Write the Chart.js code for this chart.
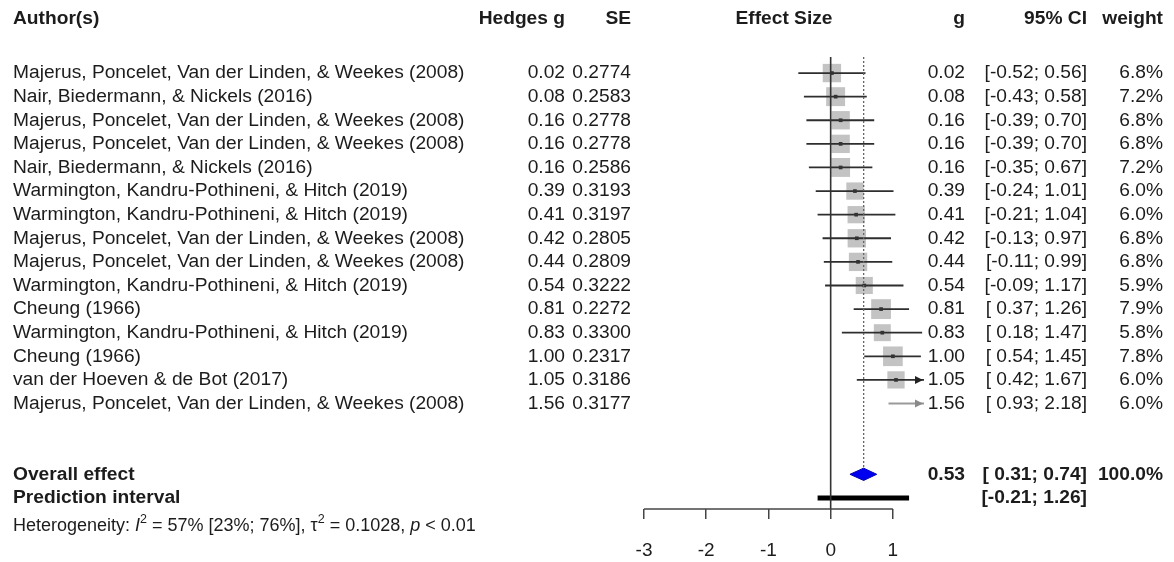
<!DOCTYPE html>
<html>
<head>
<meta charset="utf-8">
<script src="https://cdn.jsdelivr.net/npm/chart.js@4"></script>
<style>
  body { margin: 0; background: #fff; }
  canvas { display: block; }
</style>
</head>
<body>
<canvas id="forest" width="1174" height="562"></canvas>
<script>
// study data
const authors = [
  "Majerus, Poncelet, Van der Linden, & Weekes (2008)",
  "Nair, Biedermann, & Nickels (2016)",
  "Majerus, Poncelet, Van der Linden, & Weekes (2008)",
  "Majerus, Poncelet, Van der Linden, & Weekes (2008)",
  "Nair, Biedermann, & Nickels (2016)",
  "Warmington, Kandru-Pothineni, & Hitch (2019)",
  "Warmington, Kandru-Pothineni, & Hitch (2019)",
  "Majerus, Poncelet, Van der Linden, & Weekes (2008)",
  "Majerus, Poncelet, Van der Linden, & Weekes (2008)",
  "Warmington, Kandru-Pothineni, & Hitch (2019)",
  "Cheung (1966)",
  "Warmington, Kandru-Pothineni, & Hitch (2019)",
  "Cheung (1966)",
  "van der Hoeven & de Bot (2017)",
  "Majerus, Poncelet, Van der Linden, & Weekes (2008)"
];
const hedgesG = [0.02, 0.08, 0.16, 0.16, 0.16, 0.39, 0.41, 0.42, 0.44, 0.54, 0.81, 0.83, 1.00, 1.05, 1.56];
const se = [0.2774, 0.2583, 0.2778, 0.2778, 0.2586, 0.3193, 0.3197, 0.2805, 0.2809, 0.3222, 0.2272, 0.3300, 0.2317, 0.3186, 0.3177];
const ciLower = [-0.52, -0.43, -0.39, -0.39, -0.35, -0.24, -0.21, -0.13, -0.11, -0.09, 0.37, 0.18, 0.54, 0.42, 0.93];
const ciUpper = [0.56, 0.58, 0.70, 0.70, 0.67, 1.01, 1.04, 0.97, 0.99, 1.17, 1.26, 1.47, 1.45, 1.67, 2.18];
const weights = [6.8, 7.2, 6.8, 6.8, 7.2, 6.0, 6.0, 6.8, 6.8, 5.9, 7.9, 5.8, 7.8, 6.0, 6.0];

const overallEst = 0.53;
const overallCI = [0.31, 0.74];
const predInterval = [-0.21, 1.26];
const xTicks = [-3, -2, -1, 0, 1];

const X_MIN = -3, X_MAX = 1.5;
const ROW_OVERALL = 17, ROW_PRED = 18;
const FONT = "'Liberation Sans', Arial, sans-serif";
const TXT = "#1c1c1c";

const fmt2 = v => v.toFixed(2);
const fmtCI = (lo, hi) => "[" + (lo < 0 ? "" : " ") + fmt2(lo) + "; " + fmt2(hi) + "]";

// one line dataset per confidence interval
const ciSets = hedgesG.map((g, i) => ({
  data: [{ x: ciLower[i], y: i }, { x: ciUpper[i], y: i }],
  showLine: true,
  borderColor: g > X_MAX ? "#9a9a9a" : "#2e2e2e",
  borderWidth: 1.8,
  pointRadius: 0,
  order: 2
}));

// studies whose estimate falls inside the axis get a square
const shown = hedgesG.map((g, i) => i).filter(i => hedgesG[i] <= X_MAX);

// rect points: side = radius * sqrt(2)
const squares = {
  data: shown.map(i => ({ x: hedgesG[i], y: i })),
  pointStyle: "rect",
  pointRadius: shown.map(i => 14 * Math.sqrt(weights[i] / 7.9)),
  backgroundColor: "#c3c3c3",
  borderWidth: 0,
  order: 3
};

const dots = {
  data: shown.map(i => ({ x: hedgesG[i], y: i })),
  pointStyle: "rect",
  pointRadius: 2.6,
  backgroundColor: "#333",
  borderWidth: 0,
  order: 1
};

const dh = 0.26;
const diamond = {
  data: [
    { x: overallCI[0], y: ROW_OVERALL },
    { x: overallEst, y: ROW_OVERALL - dh },
    { x: overallCI[1], y: ROW_OVERALL },
    { x: overallEst, y: ROW_OVERALL + dh },
    { x: overallCI[0], y: ROW_OVERALL }
  ],
  showLine: true,
  fill: "shape",
  backgroundColor: "#0000f0",
  borderColor: "#0000b0",
  borderWidth: 1,
  pointRadius: 0,
  order: 1
};

const prediction = {
  data: [{ x: predInterval[0], y: ROW_PRED }, { x: predInterval[1], y: ROW_PRED }],
  showLine: true,
  borderColor: "#000",
  borderWidth: 5,
  pointRadius: 0,
  order: 1
};

// reference lines, arrows, axis bracket and all the table text
const forestText = {
  id: "forestText",
  afterDatasetsDraw(chart) {
    const ctx = chart.ctx;
    const xs = chart.scales.x, ys = chart.scales.y;
    const top = chart.chartArea.top, bottom = chart.chartArea.bottom;
    ctx.save();
    // line of no effect
    ctx.strokeStyle = "#333";
    ctx.lineWidth = 1.6;
    ctx.beginPath();
    ctx.moveTo(xs.getPixelForValue(0), top);
    ctx.lineTo(xs.getPixelForValue(0), bottom);
    ctx.stroke();
    // overall effect dotted line
    ctx.strokeStyle = "#666";
    ctx.lineWidth = 1.3;
    ctx.setLineDash([2, 2]);
    ctx.beginPath();
    ctx.moveTo(xs.getPixelForValue(overallEst), top);
    ctx.lineTo(xs.getPixelForValue(overallEst), ys.getPixelForValue(ROW_OVERALL - dh));
    ctx.stroke();
    ctx.setLineDash([]);
    // arrows where CI runs past the axis
    const xe = xs.getPixelForValue(X_MAX) - 1;
    ciUpper.forEach((hi, i) => {
      if (hi <= X_MAX) return;
      const y = ys.getPixelForValue(i);
      ctx.fillStyle = hedgesG[i] > X_MAX ? "#8a8a8a" : "#222";
      ctx.beginPath();
      ctx.moveTo(xe, y);
      ctx.lineTo(xe - 8, y - 4);
      ctx.lineTo(xe - 8, y + 4);
      ctx.closePath();
      ctx.fill();
    });
    // axis bracket
    ctx.strokeStyle = "#444";
    ctx.lineWidth = 1.5;
    ctx.beginPath();
    ctx.moveTo(xs.getPixelForValue(xTicks[0]), bottom);
    ctx.lineTo(xs.getPixelForValue(xTicks[xTicks.length - 1]), bottom);
    ctx.stroke();
    ctx.restore();
  },
  afterDraw(chart) {
    const ctx = chart.ctx;
    const ys = chart.scales.y;
    const ca = chart.chartArea;
    const cols = { author: 13, g: 565, se: 631, est: 965, ci: 1087, w: 1163 };
    ctx.save();
    ctx.fillStyle = TXT;
    ctx.textBaseline = "middle";

    const put = (s, x, y, align, bold) => {
      ctx.font = (bold ? "bold " : "") + "19.2px " + FONT;
      ctx.textAlign = align;
      ctx.fillText(s, x, y);
    };

    // header
    const yh = ys.getPixelForValue(-2.3);
    put("Author(s)", cols.author, yh, "left", true);
    put("Hedges g", cols.g, yh, "right", true);
    put("SE", cols.se, yh, "right", true);
    put("Effect Size", (ca.left + ca.right) / 2, yh, "center", true);
    put("g", cols.est, yh, "right", true);
    put("95% CI", cols.ci, yh, "right", true);
    put("weight", cols.w, yh, "right", true);

    // study rows
    authors.forEach((a, i) => {
      const y = ys.getPixelForValue(i);
      put(a, cols.author, y, "left", false);
      put(fmt2(hedgesG[i]), cols.g, y, "right", false);
      put(se[i].toFixed(4), cols.se, y, "right", false);
      put(fmt2(hedgesG[i]), cols.est, y, "right", false);
      put(fmtCI(ciLower[i], ciUpper[i]), cols.ci, y, "right", false);
      put(weights[i].toFixed(1) + "%", cols.w, y, "right", false);
    });

    // summary rows
    const yo = ys.getPixelForValue(ROW_OVERALL);
    put("Overall effect", cols.author, yo, "left", true);
    put(fmt2(overallEst), cols.est, yo, "right", true);
    put(fmtCI(overallCI[0], overallCI[1]), cols.ci, yo, "right", true);
    put("100.0%", cols.w, yo, "right", true);
    const yp = ys.getPixelForValue(ROW_PRED);
    put("Prediction interval", cols.author, yp, "left", true);
    put(fmtCI(predInterval[0], predInterval[1]), cols.ci, yp, "right", true);

    // heterogeneity line with italics and superscripts
    const yt = ys.getPixelForValue(19.2);
    const parts = [
      ["Heterogeneity: ", ""], ["I", "italic "], ["2", "sup"], [" = 57% [23%; 76%], ", ""],
      ["\u03c4", ""], ["2", "sup"], [" = 0.1028, ", ""], ["p", "italic "], [" < 0.01", ""]
    ];
    let x = cols.author;
    ctx.textAlign = "left";
    parts.forEach(([s, st]) => {
      if (st === "sup") {
        ctx.font = "12.5px " + FONT;
        ctx.fillText(s, x, yt - 7);
      } else {
        ctx.font = st + "18px " + FONT;
        ctx.fillText(s, x, yt);
      }
      x += ctx.measureText(s).width;
    });
    ctx.restore();
  }
};

new Chart(document.getElementById("forest"), {
  type: "scatter",
  data: { datasets: [...ciSets, squares, dots, diamond, prediction] },
  options: {
    responsive: false,
    animation: false,
    devicePixelRatio: 1,
    layout: { padding: { left: 644, right: 250, top: 57, bottom: 0 } },
    plugins: { legend: { display: false }, tooltip: { enabled: false } },
    scales: {
      x: {
        type: "linear",
        min: X_MIN,
        max: X_MAX,
        afterBuildTicks: s => { s.ticks = xTicks.map(v => ({ value: v })); },
        afterFit: s => { s.height = 53; },
        border: { display: false },
        grid: { drawOnChartArea: false, drawTicks: true, tickLength: 10, color: "#444", lineWidth: 1.5 },
        ticks: {
          padding: 20,
          color: TXT,
          font: { family: FONT, size: 19 },
          maxRotation: 0,
          callback: v => String(v)
        }
      },
      y: {
        type: "linear",
        reverse: true,
        min: -0.68,
        max: 18.47,
        display: false
      }
    }
  },
  plugins: [forestText]
});
</script>
</body>
</html>
